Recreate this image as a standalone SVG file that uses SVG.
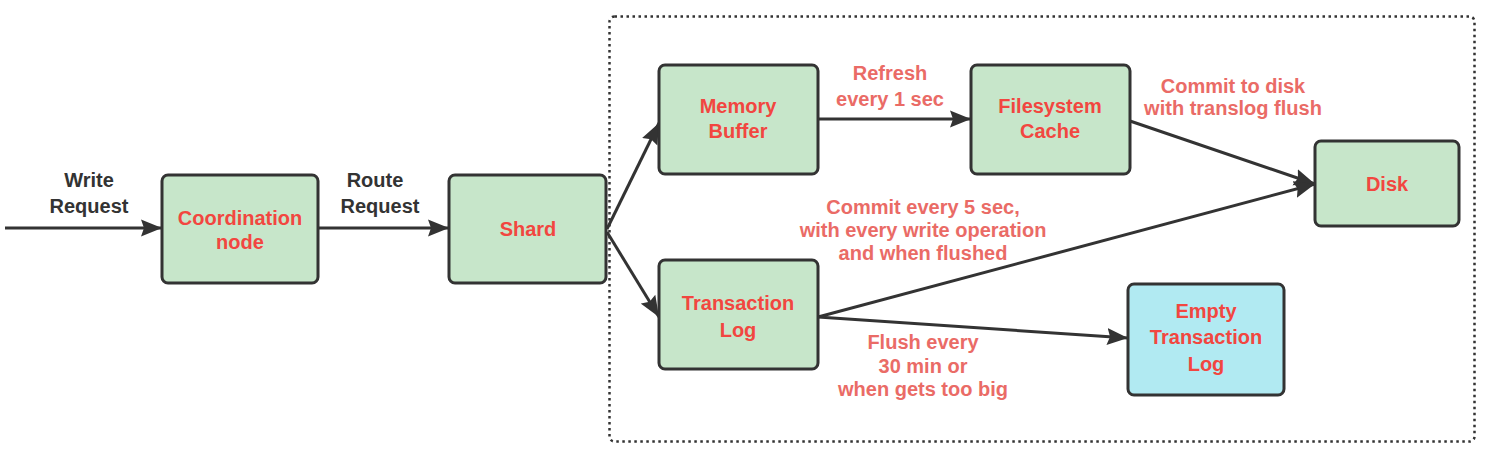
<svg xmlns="http://www.w3.org/2000/svg" width="1511" height="456" viewBox="0 0 1511 456">
<style>
.box{fill:#c7e6ca;stroke:#333;stroke-width:3}
.blue{fill:#b1eaf2}
.nl{font-family:"Liberation Sans",Arial,sans-serif;font-weight:bold;font-size:20px;fill:#f24640;text-anchor:middle}
.el{font-family:"Liberation Sans",Arial,sans-serif;font-weight:bold;font-size:20px;fill:#ea6b66;text-anchor:middle}
.bl{font-family:"Liberation Sans",Arial,sans-serif;font-weight:bold;font-size:20px;fill:#333;text-anchor:middle}
.c{fill:none;stroke:#333;stroke-width:3}
</style>
<defs>
<marker id="ah" markerUnits="userSpaceOnUse" markerWidth="22" markerHeight="18" refX="21" refY="8.5" orient="auto" viewBox="0 0 22 17">
<path d="M0,0 L21,8.5 L0,17 L3,8.5 z" fill="#333"/>
</marker>
</defs>
<rect x="609.5" y="16.5" width="865" height="425" rx="5" fill="none" stroke="#333" stroke-width="2.5" stroke-dasharray="2.5 3.5"/>
<g id="connectors">
<path class="c" d="M5,228 L162,228" marker-end="url(#ah)"/>
<path class="c" d="M318,228 L449,228" marker-end="url(#ah)"/>
<path class="c" d="M607,229 L659,123" marker-end="url(#ah)"/>
<path class="c" d="M607,232 L659,317" marker-end="url(#ah)"/>
<path class="c" d="M818,119 L971,119" marker-end="url(#ah)"/>
<path class="c" d="M1130,121 L1315,184" marker-end="url(#ah)"/>
<path class="c" d="M818,317 L1315,184" marker-end="url(#ah)"/>
<path class="c" d="M818,317 Q960,326 1128,338" marker-end="url(#ah)"/>
<text class="bl" x="89" y="187">Write</text>
<text class="bl" x="89" y="213">Request</text>
<text class="bl" x="375" y="187">Route</text>
<text class="bl" x="380" y="213">Request</text>
<text class="el" x="890" y="80">Refresh</text>
<text class="el" x="890" y="106">every 1 sec</text>
<text class="el" x="1233" y="93">Commit to disk</text>
<text class="el" x="1233" y="115">with translog flush</text>
<text class="el" x="923" y="214">Commit every 5 sec,</text>
<text class="el" x="923" y="237">with every write operation</text>
<text class="el" x="923" y="260">and when flushed</text>
<text class="el" x="923" y="349">Flush every</text>
<text class="el" x="923" y="373">30 min or</text>
<text class="el" x="923" y="396">when gets too big</text>
</g>
<g id="coord">
<rect class="box" x="162" y="175" width="156" height="108" rx="6"/>
<text class="nl" x="240" y="225">Coordination</text>
<text class="nl" x="240" y="249">node</text>
</g>
<g id="shard">
<rect class="box" x="449" y="175" width="157" height="108" rx="6"/>
<text class="nl" x="528" y="236">Shard</text>
</g>
<g id="membuf">
<rect class="box" x="659" y="65" width="159" height="109" rx="6"/>
<text class="nl" x="738" y="113">Memory</text>
<text class="nl" x="738" y="138">Buffer</text>
</g>
<g id="fscache">
<rect class="box" x="971" y="65" width="159" height="109" rx="6"/>
<text class="nl" x="1050" y="113">Filesystem</text>
<text class="nl" x="1050" y="138">Cache</text>
</g>
<g id="disk">
<rect class="box" x="1315" y="141" width="144" height="85" rx="6"/>
<text class="nl" x="1387" y="191">Disk</text>
</g>
<g id="translog">
<rect class="box" x="659" y="260" width="159" height="109" rx="6"/>
<text class="nl" x="738" y="310">Transaction</text>
<text class="nl" x="738" y="337">Log</text>
</g>
<g id="emptylog">
<rect class="box blue" x="1128" y="284" width="156" height="111" rx="6"/>
<text class="nl" x="1206" y="318">Empty</text>
<text class="nl" x="1206" y="344">Transaction</text>
<text class="nl" x="1206" y="371">Log</text>
</g>
</svg>
